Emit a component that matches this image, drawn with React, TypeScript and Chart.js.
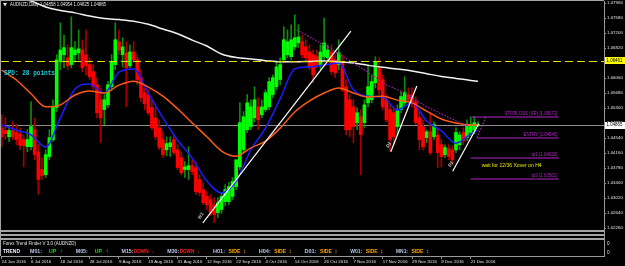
import { useEffect, useRef } from "react";
import { Chart, registerables } from "chart.js";

Chart.register(...registerables);

// ---------------- data ----------------
const SYMBOL_TITLE = "AUDNZD,Daily";
const TITLE_OHLC = ["1.04858", "1.04954", "1.04825", "1.04865"];
const SPREAD_LABEL = "SPD: 28 points";

const TICK_INDEX = [0, 8, 16, 24, 32, 40, 48, 56, 64, 72, 80, 88, 96, 104, 112, 120, 128];
const TICK_LABELS = [
  "24 Jun 2016", "6 Jul 2016", "18 Jul 2016", "28 Jul 2016", "9 Aug 2016", "19 Aug 2016",
  "31 Aug 2016", "12 Sep 2016", "22 Sep 2016", "4 Oct 2016", "14 Oct 2016", "26 Oct 2016",
  "7 Nov 2016", "17 Nov 2016", "29 Nov 2016", "9 Dec 2016", "21 Dec 2016",
];
const PRICE_TICKS = [
  1.0226, 1.0264, 1.0302, 1.034, 1.0378, 1.0416, 1.0454, 1.0492,
  1.053, 1.0568, 1.0606, 1.0644, 1.0682, 1.072, 1.0758, 1.0796,
];

const OPEN = [
  1.0480, 1.0473, 1.0457, 1.0473, 1.0468, 1.0465, 1.0450, 1.0432, 1.0432, 1.0475,
  1.0419, 1.0374, 1.0361, 1.0407, 1.0450, 1.0531, 1.0647, 1.0665, 1.0657, 1.0640,
  1.0665, 1.0670, 1.0677, 1.0665, 1.0640, 1.0622, 1.0589, 1.0551, 1.0526, 1.0538,
  1.0584, 1.0640, 1.0698, 1.0665, 1.0670, 1.0637, 1.0672, 1.0652, 1.0607, 1.0569,
  1.0564, 1.0531, 1.0505, 1.0480, 1.0450, 1.0424, 1.0432, 1.0450, 1.0424, 1.0404,
  1.0374, 1.0374, 1.0384, 1.0379, 1.0349, 1.0323, 1.0306, 1.0298, 1.0285, 1.0265,
  1.0273, 1.0293, 1.0293, 1.0306, 1.0331, 1.0381, 1.0424, 1.0475, 1.0483, 1.0505,
  1.0533, 1.0513, 1.0526, 1.0533, 1.0564, 1.0584, 1.0602, 1.0652, 1.0665, 1.0660,
  1.0685, 1.0695, 1.0698, 1.0685, 1.0672, 1.0665, 1.0660, 1.0640, 1.0660, 1.0657,
  1.0672, 1.0652, 1.0640, 1.0645, 1.0584, 1.0551, 1.0533, 1.0493, 1.0508, 1.0493,
  1.0543, 1.0551, 1.0594, 1.0632, 1.0602, 1.0551, 1.0526, 1.0518, 1.0483, 1.0526,
  1.0543, 1.0564, 1.0564, 1.0546, 1.0505, 1.0483, 1.0455, 1.0470, 1.0457, 1.0462,
  1.0437, 1.0412, 1.0427, 1.0424, 1.0424, 1.0437, 1.0468, 1.0455, 1.0468, 1.0475,
  1.04858,
];
const HIGH = [
  1.0513, 1.0505, 1.0485, 1.0495, 1.0488, 1.0480, 1.0462, 1.0475, 1.0546, 1.0505,
  1.0437, 1.0404, 1.0424, 1.0475, 1.0551, 1.0665, 1.0746, 1.0715, 1.0690, 1.0761,
  1.0698, 1.0728, 1.0703, 1.0728, 1.0657, 1.0640, 1.0607, 1.0581, 1.0564, 1.0597,
  1.0665, 1.0746, 1.0728, 1.0708, 1.0698, 1.0690, 1.0698, 1.0665, 1.0627, 1.0581,
  1.0576, 1.0551, 1.0531, 1.0500, 1.0470, 1.0457, 1.0457, 1.0462, 1.0437, 1.0419,
  1.0394, 1.0432, 1.0399, 1.0392, 1.0361, 1.0341, 1.0318, 1.0311, 1.0303, 1.0303,
  1.0316, 1.0336, 1.0341, 1.0354, 1.0361, 1.0543, 1.0521, 1.0564, 1.0551, 1.0584,
  1.0556, 1.0551, 1.0576, 1.0607, 1.0614, 1.0647, 1.0657, 1.0736, 1.0728, 1.0741,
  1.0766, 1.0741, 1.0715, 1.0703, 1.0690, 1.0677, 1.0677, 1.0690, 1.0758, 1.0690,
  1.0690, 1.0665, 1.0703, 1.0665, 1.0602, 1.0564, 1.0551, 1.0531, 1.0526, 1.0551,
  1.0640, 1.0614, 1.0660, 1.0657, 1.0614, 1.0564, 1.0538, 1.0531, 1.0538, 1.0571,
  1.0609, 1.0581, 1.0581, 1.0559, 1.0521, 1.0500, 1.0475, 1.0518, 1.0495, 1.0480,
  1.0450, 1.0437, 1.0437, 1.0435, 1.0480, 1.0470, 1.0480, 1.0500, 1.0508, 1.0508,
  1.04954,
];
const LOW = [
  1.0432, 1.0450, 1.0445, 1.0450, 1.0437, 1.0424, 1.0381, 1.0419, 1.0424, 1.0399,
  1.0311, 1.0349, 1.0354, 1.0399, 1.0445, 1.0521, 1.0627, 1.0632, 1.0627, 1.0632,
  1.0647, 1.0652, 1.0622, 1.0614, 1.0602, 1.0576, 1.0505, 1.0442, 1.0488, 1.0531,
  1.0576, 1.0627, 1.0665, 1.0634, 1.0533, 1.0632, 1.0647, 1.0589, 1.0546, 1.0526,
  1.0513, 1.0475, 1.0450, 1.0424, 1.0404, 1.0409, 1.0407, 1.0412, 1.0374, 1.0361,
  1.0354, 1.0349, 1.0361, 1.0311, 1.0308, 1.0285, 1.0273, 1.0258, 1.0240, 1.0252,
  1.0263, 1.0283, 1.0285, 1.0298, 1.0323, 1.0374, 1.0417, 1.0468, 1.0475, 1.0495,
  1.0475, 1.0505, 1.0521, 1.0526, 1.0556, 1.0576, 1.0589, 1.0645, 1.0657, 1.0652,
  1.0677, 1.0683, 1.0657, 1.0647, 1.0627, 1.0594, 1.0632, 1.0627, 1.0652, 1.0647,
  1.0614, 1.0607, 1.0627, 1.0571, 1.0462, 1.0457, 1.0442, 1.0475, 1.0361, 1.0480,
  1.0533, 1.0543, 1.0581, 1.0564, 1.0526, 1.0495, 1.0419, 1.0437, 1.0462, 1.0518,
  1.0536, 1.0541, 1.0533, 1.0488, 1.0424, 1.0424, 1.0442, 1.0412, 1.0450, 1.0379,
  1.0381, 1.0404, 1.0399, 1.0387, 1.0417, 1.0424, 1.0437, 1.0447, 1.0460, 1.0465,
  1.04825,
];
const CLOSE = [
  1.0457, 1.0465, 1.0473, 1.0457, 1.0450, 1.0435, 1.0435, 1.0450, 1.0483, 1.0412,
  1.0349, 1.0359, 1.0412, 1.0455, 1.0533, 1.0652, 1.0677, 1.0683, 1.0637, 1.0683,
  1.0677, 1.0680, 1.0632, 1.0637, 1.0609, 1.0584, 1.0518, 1.0505, 1.0551, 1.0589,
  1.0647, 1.0703, 1.0677, 1.0685, 1.0632, 1.0672, 1.0652, 1.0602, 1.0556, 1.0541,
  1.0518, 1.0480, 1.0457, 1.0430, 1.0412, 1.0440, 1.0442, 1.0417, 1.0379, 1.0366,
  1.0381, 1.0384, 1.0369, 1.0318, 1.0316, 1.0290, 1.0285, 1.0265, 1.0260, 1.0290,
  1.0306, 1.0323, 1.0331, 1.0344, 1.0399, 1.0493, 1.0508, 1.0543, 1.0533, 1.0551,
  1.0500, 1.0533, 1.0569, 1.0597, 1.0607, 1.0634, 1.0640, 1.0703, 1.0698, 1.0703,
  1.0708, 1.0710, 1.0665, 1.0657, 1.0634, 1.0614, 1.0640, 1.0672, 1.0695, 1.0677,
  1.0622, 1.0619, 1.0670, 1.0576, 1.0475, 1.0475, 1.0483, 1.0518, 1.0462, 1.0538,
  1.0584, 1.0597, 1.0647, 1.0576, 1.0533, 1.0500, 1.0450, 1.0457, 1.0526, 1.0559,
  1.0569, 1.0551, 1.0546, 1.0493, 1.0450, 1.0432, 1.0470, 1.0417, 1.0488, 1.0417,
  1.0407, 1.0430, 1.0407, 1.0399, 1.0468, 1.0462, 1.0447, 1.0485, 1.0488, 1.0493,
  1.04865,
];

const MA_INDEX = [0, 4, 8, 12, 16, 20, 24, 28, 32, 36, 40, 44, 48, 52, 56, 60, 64, 68, 72, 76, 80, 84, 88, 92, 96, 100, 104, 108, 112, 116, 120, 124, 128, 130];
const MA_WHITE = [
  1.0824, 1.0811, 1.0801, 1.0786, 1.0777, 1.0771, 1.0763, 1.0757, 1.0754, 1.0750,
  1.0742, 1.0730, 1.0718, 1.0702, 1.0687, 1.0667, 1.0658, 1.0654, 1.0650, 1.0647,
  1.0647, 1.0648, 1.0649, 1.0647, 1.0644, 1.0638, 1.0633, 1.0629, 1.0624, 1.0617,
  1.0610, 1.0605, 1.0600, 1.0598,
];
const MA_ORANGE = [
  1.0626, 1.0601, 1.0566, 1.0533, 1.0538, 1.0563, 1.0573, 1.0568, 1.0588, 1.0598,
  1.0583, 1.0560, 1.0528, 1.0492, 1.0457, 1.0421, 1.0408, 1.0429, 1.0446, 1.0479,
  1.0520, 1.0548, 1.0568, 1.0581, 1.0568, 1.0558, 1.0560, 1.0550, 1.0543, 1.0522,
  1.0502, 1.0492, 1.0487, 1.0487,
];
const MA_BLUE = [
  1.0487, 1.0474, 1.0462, 1.0431, 1.0505, 1.0578, 1.0591, 1.0568, 1.0621, 1.0629,
  1.0568, 1.0505, 1.0449, 1.0403, 1.0345, 1.0315, 1.0345, 1.0424, 1.0479, 1.0553,
  1.0629, 1.0634, 1.0639, 1.0644, 1.0576, 1.0560, 1.0558, 1.0525, 1.0543, 1.0497,
  1.0472, 1.0441, 1.0464, 1.0474,
];

const SIGNAL_X = [80.5, 89.5, 99.1, 105.1, 109.4, 116.0, 122.3, 127.7];
const SIGNAL_Y = [1.0728, 1.0682, 1.0626, 1.0588, 1.0571, 1.0533, 1.0505, 1.0482];

const TREND1_X = [54.9, 95.3];
const TREND1_Y = [1.0239, 1.0725];
const TREND2_X = [106.2, 113.3];
const TREND2_Y = [1.0419, 1.0586];
const TREND3_X = [123.1, 130.2];
const TREND3_Y = [1.037, 1.049];
const TREND_TAGS = ["W1", "D1", "D1"];

const LEVEL_NAMES = ["STOPLOSS (SR)", "ENTRY", "tp1", "tp2"];
const LEVEL_PRICES = [1.05072, 1.0454, 1.04033, 1.03501];
const LEVEL_FROM = [128.3, 129.9, 128, 128];
const LEVEL_TO = [152, 152, 152, 152];
const PLAN_X = [132.1, 129.7];
const PLAN_Y = [1.0507, 1.0454];
const PLAN_NOTE = "wait for 12/36 Xover on H4";
const NOTE_INDEX = 131;
const NOTE_PRICE = 1.0383;

const ALERT_LEVEL = 1.065;
const ALERT_LABEL = "1.06461";
const BID_PRICE = 1.04865;

const INDICATOR_TITLE = "Forex Trend Finder V 3.0 (AUDNZD)";
const TF_NAMES = ["M01", "M05", "M15", "M30", "H01", "H04", "D01", "W01", "MN1"];
const TF_TRENDS = ["UP", "UP", "DOWN", "DOWN", "SIDE", "SIDE", "SIDE", "SIDE", "SIDE"];
const SUB_VALUES = ["0", "0"];

// ---------------- styling ----------------
const FONT = "'Liberation Sans', Arial, sans-serif";
const MONO = "'Liberation Mono', 'DejaVu Sans Mono', monospace";
const TREND_STYLE: any = {
  UP: { color: "#00ee00", dx: 19, w: 7, arrow: "\u2191" },
  DOWN: { color: "#ff2020", dx: 12.5, w: 14.5, arrow: "\u2193" },
  SIDE: { color: "#ffa500", dx: 15.5, w: 12, arrow: "\u2195" },
};
const LEVEL_TEXT_W = [53, 34, 26, 26];

function drawText(ctx: any, s: string, x: number, y: number, w: number, size: number, color: string, family = FONT, weight = "") {
  ctx.save();
  ctx.font = `${weight} ${size}px ${family}`.trim();
  const m = ctx.measureText(s).width;
  ctx.translate(x, y);
  if (w > 0 && m > 0) ctx.scale(w / m, 1);
  ctx.fillStyle = color;
  ctx.textAlign = "left";
  ctx.textBaseline = "middle";
  ctx.fillText(s, 0, 0);
  ctx.restore();
}

const mt4Plugin = {
  id: "mt4overlay",
  beforeDraw(chart: any) {
    const { ctx, width, height } = chart;
    ctx.save();
    ctx.fillStyle = "#000";
    ctx.fillRect(0, 0, width, height);
    ctx.restore();
  },
  beforeDatasetsDraw(chart: any) {
    const { ctx, chartArea: a, scales } = chart;
    const yb = Math.round(scales.y.getPixelForValue(BID_PRICE)) + 0.5;
    ctx.save();
    ctx.strokeStyle = "#8c8c8c";
    ctx.lineWidth = 1;
    ctx.beginPath();
    ctx.moveTo(a.left, yb);
    ctx.lineTo(a.right, yb);
    ctx.stroke();
    ctx.restore();
  },
  afterDatasetsDraw(chart: any) {
    const { ctx, chartArea: a, scales } = chart;
    const ya = Math.round(scales.y.getPixelForValue(ALERT_LEVEL)) + 0.5;
    ctx.save();
    ctx.strokeStyle = "#dede00";
    ctx.lineWidth = 1;
    ctx.setLineDash([8, 4]);
    ctx.beginPath();
    ctx.moveTo(a.left, ya);
    ctx.lineTo(a.right, ya);
    ctx.stroke();
    ctx.restore();
  },
  afterDraw(chart: any) {
    const { ctx, chartArea: a, scales } = chart;
    const xs = scales.x;
    const ys = scales.y;
    ctx.save();
    // indicator sub-window
    ctx.fillStyle = "#000";
    ctx.fillRect(a.left, 230, a.right - a.left, a.bottom - 230);
    ctx.fillStyle = "#a4a4a4";
    for (const yy of [230, 234, 238]) ctx.fillRect(0, yy, a.right, 2);
    ctx.fillRect(0, 0, a.right, 1);
    ctx.fillRect(0, 0, 1, a.bottom);
    ctx.restore();

    drawText(ctx, INDICATOR_TITLE, 3, 244, 73, 4.6, "#e6e6e6");
    drawText(ctx, "TREND", 3, 251.5, 17, 5, "#eef2ff", FONT, "bold");
    TF_NAMES.forEach((name, k) => {
      const x0 = 30 + k * 45.75;
      const st = TREND_STYLE[TF_TRENDS[k]];
      drawText(ctx, name + ":", x0, 251.5, 12, 5, "#b8c8e8", FONT, "bold");
      drawText(ctx, TF_TRENDS[k], x0 + st.dx, 251.5, st.w, 5, st.color, FONT, "bold");
      drawText(ctx, st.arrow, x0 + 30, 251.5, 0, 6, st.color, FONT, "bold");
    });
    drawText(ctx, SUB_VALUES[0], 607, 244, 0, 4.6, "#e0e0e0");
    drawText(ctx, SUB_VALUES[1], 607, 253, 0, 4.6, "#e0e0e0");

    // title
    ctx.save();
    ctx.fillStyle = "#e8e8e8";
    ctx.beginPath();
    ctx.moveTo(3, 3);
    ctx.lineTo(7, 3);
    ctx.lineTo(5, 6.5);
    ctx.closePath();
    ctx.fill();
    ctx.restore();
    drawText(ctx, `${SYMBOL_TITLE} ${TITLE_OHLC.join(" ")}`, 10, 5, 96, 4.6, "#e8e8e8");

    // spread
    drawText(ctx, SPREAD_LABEL, 4, 73, 51, 6.5, "#22c8d8", MONO, "bold");

    // trade plan labels
    LEVEL_NAMES.forEach((name, k) => {
      const yl = ys.getPixelForValue(LEVEL_PRICES[k]);
      const right = xs.getPixelForValue(LEVEL_TO[k]) - 1;
      const w = LEVEL_TEXT_W[k];
      drawText(ctx, `${name} [${LEVEL_PRICES[k].toFixed(5)}]`, right - w, yl - 3.5, w, 4.6, "#b428c8");
    });
    drawText(ctx, PLAN_NOTE, xs.getPixelForValue(NOTE_INDEX), ys.getPixelForValue(NOTE_PRICE), 60, 4.6, "#e6e600");

    // trend line tags
    const starts = [[TREND1_X[0], TREND1_Y[0]], [TREND2_X[0], TREND2_Y[0]], [TREND3_X[0], TREND3_Y[0]]];
    starts.forEach((p, k) => {
      const px = xs.getPixelForValue(p[0]) - 2;
      const py = ys.getPixelForValue(p[1]) - 7;
      ctx.save();
      ctx.translate(px, py);
      ctx.rotate(-1.0);
      ctx.font = `italic bold 4.6px ${FONT}`;
      ctx.fillStyle = "#c8c8c8";
      ctx.textAlign = "center";
      ctx.textBaseline = "middle";
      ctx.fillText(TREND_TAGS[k], 0, 0);
      ctx.restore();
    });

    // axis price boxes
    const boxes = [
      { v: ALERT_LEVEL, text: ALERT_LABEL, bg: "#ffff00" },
      { v: BID_PRICE, text: BID_PRICE.toFixed(5), bg: "#ffffff" },
    ];
    for (const b of boxes) {
      const yc = ys.getPixelForValue(b.v);
      ctx.save();
      ctx.fillStyle = b.bg;
      ctx.fillRect(605, Math.round(yc - 3.5), 20, 7);
      ctx.restore();
      drawText(ctx, b.text, 606.5, yc, 16, 4.6, "#000000");
    }
  },
};

const bull = OPEN.map((o, i) => CLOSE[i] >= o);
const pts = (xs: number[], ys: number[]) => xs.map((x, k) => ({ x, y: ys[k] }));

function buildConfig(): any {
  const lineBase = { type: "line", pointRadius: 0, fill: false, spanGaps: true };
  const levelSets = LEVEL_PRICES.map((p, k) => ({
    ...lineBase,
    label: LEVEL_NAMES[k],
    data: [{ x: LEVEL_FROM[k], y: p }, { x: LEVEL_TO[k], y: p }],
    borderColor: "#b428c8",
    borderWidth: 1,
    order: 1,
  }));
  return {
    type: "bar",
    data: {
      datasets: [
        { ...lineBase, label: "trend W1", data: pts(TREND1_X, TREND1_Y), borderColor: "#ffffff", borderWidth: 1.2, order: 0 },
        { ...lineBase, label: "trend D1a", data: pts(TREND2_X, TREND2_Y), borderColor: "#ffffff", borderWidth: 1.2, order: 0 },
        { ...lineBase, label: "trend D1b", data: pts(TREND3_X, TREND3_Y), borderColor: "#ffffff", borderWidth: 1.2, order: 0 },
        ...levelSets,
        { ...lineBase, label: "plan", data: pts(PLAN_X, PLAN_Y), borderColor: "#c040d0", borderWidth: 1, borderDash: [1.5, 1.5], order: 1 },
        { ...lineBase, label: "signal", data: pts(SIGNAL_X, SIGNAL_Y), borderColor: "#a020a8", borderWidth: 1.2, borderDash: [1.5, 1.5], order: 2 },
        { ...lineBase, label: "MA white", data: pts(MA_INDEX, MA_WHITE), borderColor: "#f2f2f2", borderWidth: 1.5, cubicInterpolationMode: "monotone", order: 3 },
        { ...lineBase, label: "MA orange", data: pts(MA_INDEX, MA_ORANGE), borderColor: "#ff5a14", borderWidth: 1.5, cubicInterpolationMode: "monotone", order: 4 },
        { ...lineBase, label: "MA blue", data: pts(MA_INDEX, MA_BLUE), borderColor: "#1c1cff", borderWidth: 1.5, cubicInterpolationMode: "monotone", order: 5 },
        {
          type: "bar",
          label: "body",
          data: OPEN.map((o, i) => ({ x: i, y: [o, CLOSE[i]] })),
          backgroundColor: bull.map((b) => (b ? "#00ff00" : "#ff0000")),
          borderWidth: 0,
          barThickness: 3,
          minBarLength: 1,
          grouped: false,
          order: 8,
        },
        {
          type: "bar",
          label: "wick",
          data: LOW.map((l, i) => ({ x: i, y: [l, HIGH[i]] })),
          backgroundColor: bull.map((b) => (b ? "#0c8c0c" : "#a80000")),
          borderWidth: 0,
          barThickness: 1,
          grouped: false,
          order: 9,
        },
      ],
    },
    options: {
      responsive: false,
      maintainAspectRatio: false,
      animation: false,
      devicePixelRatio: 1,
      events: [],
      layout: { padding: { top: 1, left: 1, right: 0, bottom: 0 }, autoPadding: false },
      plugins: { legend: { display: false }, tooltip: { enabled: false }, title: { display: false } },
      scales: {
        x: {
          type: "linear",
          position: "bottom",
          min: -0.2,
          max: 164.4,
          offset: false,
          grid: { display: true, offset: false, drawOnChartArea: false, drawTicks: true, tickLength: 3, color: "#8a8a8a" },
          border: { display: true, color: "#9a9a9a" },
          ticks: {
            autoSkip: false,
            maxRotation: 0,
            minRotation: 0,
            align: "start",
            padding: 0,
            color: "#e0e0e0",
            font: { family: FONT, size: 4.4 },
            callback: (v: any) => {
              const k = TICK_INDEX.indexOf(Number(v));
              return k >= 0 ? TICK_LABELS[k] : "";
            },
          },
          afterBuildTicks: (s: any) => {
            s.ticks = TICK_INDEX.map((v) => ({ value: v }));
          },
          afterFit: (s: any) => {
            s.height = 10;
            s.paddingLeft = 0;
            s.paddingRight = 0;
          },
        },
        y: {
          type: "linear",
          position: "right",
          min: 1.01551,
          max: 1.08011,
          grid: { display: true, drawOnChartArea: false, drawTicks: true, tickLength: 2, color: "#8a8a8a" },
          border: { display: true, color: "#9a9a9a" },
          ticks: {
            padding: 1,
            color: "#e0e0e0",
            font: { family: FONT, size: 4.4 },
            callback: (v: any) => Number(v).toFixed(5),
          },
          afterBuildTicks: (s: any) => {
            s.ticks = PRICE_TICKS.map((v) => ({ value: v }));
          },
          afterFit: (s: any) => {
            s.width = 21;
            s.paddingTop = 0;
            s.paddingBottom = 0;
          },
        },
      },
    },
    plugins: [mt4Plugin],
  };
}

export default function App() {
  const ref = useRef<HTMLCanvasElement | null>(null);
  useEffect(() => {
    document.body.style.margin = "0";
    document.body.style.background = "#000";
    const chart = new Chart(ref.current as HTMLCanvasElement, buildConfig());
    return () => chart.destroy();
  }, []);
  return (
    <div style={{ position: "fixed", left: 0, top: 0, width: 625, height: 266, background: "#000" }}>
      <canvas ref={ref} width={625} height={266} style={{ display: "block", width: 625, height: 266 }} />
    </div>
  );
}
